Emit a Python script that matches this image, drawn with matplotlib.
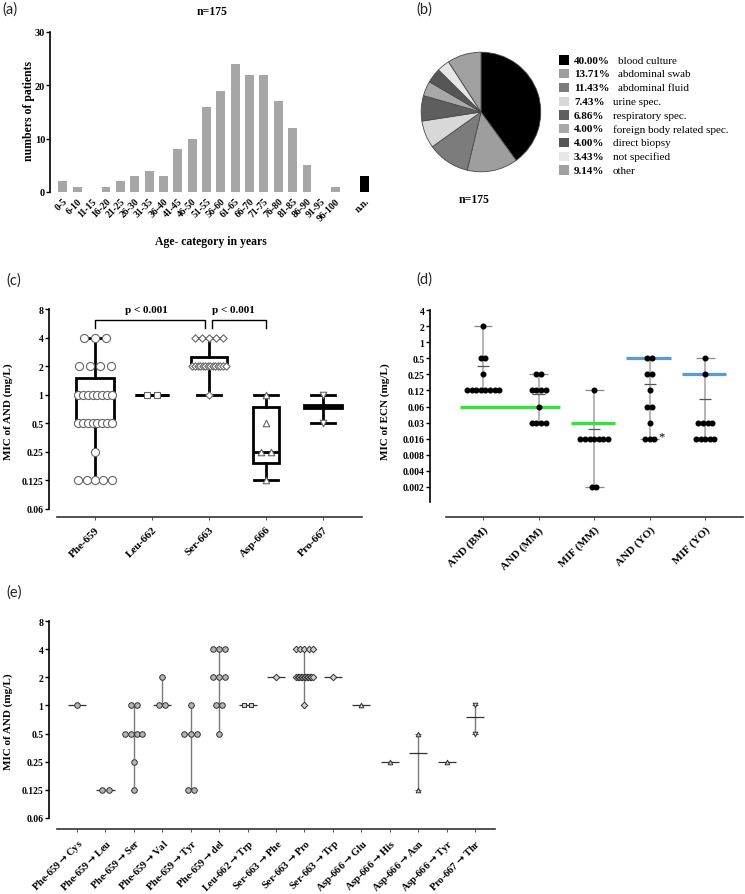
import numpy as np
import matplotlib
matplotlib.use("Agg")
import matplotlib.pyplot as plt

W, H = 745, 895
SERIF = ["Liberation Serif", "DejaVu Serif"]
plt.rcParams["font.family"] = SERIF
plt.rcParams["font.weight"] = "bold"
plt.rcParams["axes.linewidth"] = 1.2

# ---- data ----
# (a) age distribution
age_groups = ["0-5", "6-10", "11-15", "16-20", "21-25", "26-30", "31-35", "36-40",
              "41-45", "46-50", "51-55", "56-60", "61-65", "66-70", "71-75", "76-80",
              "81-85", "86-90", "91-95", "96-100", "n.n."]
patients = [2, 1, 0, 1, 2, 3, 4, 3, 8, 10, 16, 19, 24, 22, 22, 17, 12, 5, 0, 1, 3]

# (b) specimen types
spec_pct = [40.00, 13.71, 11.43, 7.43, 6.86, 4.00, 4.00, 3.43, 9.14]
spec_names = ["blood culture", "abdominal swab", "abdominal fluid", "urine spec.",
              "respiratory spec.", "foreign body related spec.", "direct biopsy",
              "not specified", "other"]
spec_colors = ["#000000", "#9e9e9e", "#7c7c7c", "#d8d8d8", "#5e5e5e",
               "#a8a8a8", "#565656", "#e6e6e6", "#a0a0a0"]

# (e) MIC of AND per mutation
mut_labels = ["Phe-659\u2192Cys", "Phe-659\u2192Leu", "Phe-659\u2192Ser", "Phe-659\u2192Val",
              "Phe-659\u2192Tyr", "Phe-659\u2192del", "Leu-662\u2192Trp", "Ser-663\u2192Phe",
              "Ser-663\u2192Pro", "Ser-663\u2192Trp", "Asp-666\u2192Glu", "Asp-666\u2192His",
              "Asp-666\u2192Asn", "Asp-666\u2192Tyr", "Pro-667\u2192Thr"]
mut_mic = [
    [1],
    [0.125, 0.125],
    [1, 1, 0.5, 0.5, 0.5, 0.5, 0.25, 0.125],
    [2, 1, 1],
    [1, 0.5, 0.5, 0.5, 0.125, 0.125],
    [4, 4, 4, 2, 2, 2, 1, 1, 0.5],
    [1, 1],
    [2],
    [4] * 5 + [2] * 12 + [1],
    [2],
    [1],
    [0.25],
    [0.5, 0.125],
    [0.25],
    [1, 0.5],
]

# (c) hot spot positions, box summary
hs_labels = ["Phe-659", "Leu-662", "Ser-663", "Asp-666", "Pro-667"]
hs_q1 = [0.5, 1, 2, 0.19, 0.73]
hs_med = [1, 1, 2, 0.25, 0.75]
hs_q3 = [1.5, 1, 2.5, 0.74, 0.77]
hs_lo = [0.125, 1, 1, 0.125, 0.5]
hs_hi = [4, 1, 4, 1, 1]
hs_markers = ["o", "s", "D", "^", "v"]

# (d) MIC of echinocandins
d_labels = ["AND (BM)", "AND (MM)", "MIF (MM)", "AND (YO)", "MIF (YO)"]
d_mic = [
    [2, 0.5, 0.5, 0.25] + [0.125] * 8,
    [0.25] * 2 + [0.125] * 4 + [0.0625] + [0.03125] * 4,
    [0.125] + [0.015625] * 7 + [0.001953125] * 2,
    [0.5] * 2 + [0.25] * 2 + [0.125] + [0.0625] * 2 + [0.03125] + [0.015625] * 3,
    [0.5, 0.25] + [0.03125] * 4 + [0.015625] * 5,
]
# ECV lines: first group, last group, value, colour
ecv = [(0, 1, 0.0625, "#2ee82e"), (2, 2, 0.03125, "#2ee82e"),
       (3, 3, 0.5, "#5b9bd5"), (4, 4, 0.25, "#5b9bd5")]
d_ticks = [4, 2, 1, 0.5, 0.25, 0.125, 0.0625, 0.03125, 0.015625, 0.0078125,
           0.00390625, 0.001953125]
d_ticklabels = ["4", "2", "1", "0.5", "0.25", "0.12", "0.06", "0.03", "0.016",
                "0.008", "0.004", "0.002"]
and_ticks = [8, 4, 2, 1, 0.5, 0.25, 0.125, 0.0625]
and_ticklabels = ["8", "4", "2", "1", "0.5", "0.25", "0.125", "0.06"]


fig = plt.figure(figsize=(W / 100, H / 100), dpi=100)


def px_ax(l, t, r, b):
    return fig.add_axes([l / W, 1 - b / H, (r - l) / W, (b - t) / H])


def spread(vals, step, maxw):
    vals = np.asarray(vals, dtype=float)
    xs = np.zeros(len(vals))
    for v in np.unique(vals):
        idx = np.where(vals == v)[0]
        n = len(idx)
        s = step if n == 1 else min(step, maxw / (n - 1))
        xs[idx] = (np.arange(n) - (n - 1) / 2) * s
    return xs


def style_log_axis(ax, ticks, labels, lo_bound, hi_bound, xlo, xhi):
    ax.set_yscale("log", base=2)
    ax.set_yticks(ticks)
    ax.set_yticklabels(labels, fontsize=7)
    ax.yaxis.set_minor_locator(plt.NullLocator())
    ax.spines["top"].set_visible(False)
    ax.spines["right"].set_visible(False)
    ax.spines["left"].set_bounds(lo_bound, hi_bound)
    ax.spines["bottom"].set_bounds(xlo, xhi)
    ax.spines["bottom"].set_color("#333333")
    ax.tick_params(axis="y", length=3, width=1, pad=1)
    ax.tick_params(axis="x", length=2, width=0.6, colors="#333333", labelcolor="black")


# ---- (a) bar chart ----
axa = px_ax(50, 33, 373, 193)
pos = np.append(np.arange(len(age_groups) - 1), len(age_groups))
cols = ["#a6a6a6"] * (len(age_groups) - 1) + ["black"]
axa.bar(pos, patients, width=0.62, color=cols)
axa.set_xlim(-0.9, 21.6)
axa.set_ylim(0, 30)
axa.set_yticks([0, 10, 20, 30])
axa.tick_params(axis="y", labelsize=7.5, length=3, width=1, pad=0.5)
axa.set_xticks(pos)
axa.set_xticklabels(age_groups, rotation=45, ha="right", rotation_mode="anchor", fontsize=7)
axa.tick_params(axis="x", length=0, pad=3)
for s in ["top", "right", "bottom"]:
    axa.spines[s].set_visible(False)

# ---- (b) pie ----
axb = px_ax(420, 52, 542, 174)
axb.pie(spec_pct, colors=spec_colors, startangle=90, counterclock=False,
        wedgeprops=dict(edgecolor="#4a4a4a", linewidth=0.6))
axb.set_xlim(-1.02, 1.02)
axb.set_ylim(-1.02, 1.02)

# ---- (c) box plot ----
axc = px_ax(49, 308, 362, 518)
stats = [dict(med=m, q1=a, q3=b, whislo=lo, whishi=hi, fliers=[])
         for m, a, b, lo, hi in zip(hs_med, hs_q1, hs_q3, hs_lo, hs_hi)]
axc.bxp(stats, positions=range(5), widths=[0.65, 0.6, 0.62, 0.47, 0.65],
        showfliers=False, patch_artist=True, capwidths=0.42,
        boxprops=dict(facecolor="white", edgecolor="black", linewidth=2),
        whiskerprops=dict(linewidth=2), capprops=dict(linewidth=2),
        medianprops=dict(color="black", linewidth=2))
parent = [lab.split("\u2192")[0] for lab in mut_labels]
for i, hs in enumerate(hs_labels):
    vals = [v for p, vv in zip(parent, mut_mic) if p == hs for v in vv]
    mk = hs_markers[i]
    step = 0.12 if mk == "D" else 0.19
    xs = i + spread(vals, step, 0.58)
    size = {"o": 34, "D": 14}.get(mk, 22)
    axc.scatter(xs, vals, marker=mk, s=size, facecolor="white",
                edgecolor="#666666", linewidth=0.8, zorder=4)
# significance brackets
for x0, x1, xt in [(0, 1.93, 0.9), (2.05, 3, 2.42)]:
    axc.plot([x0, x0, x1, x1], [5.0, 6.1, 6.1, 5.0], color="black", lw=1, clip_on=False)
    axc.text(xt, 8.0, "p < 0.001", ha="center", va="center", fontsize=8)
axc.set_xlim(-0.807, 4.684)
axc.set_ylim(2 ** (-4 - 8 / 28.57), 2 ** (3 + 2 / 28.57))
style_log_axis(axc, and_ticks, and_ticklabels, 0.0625, 8, -0.667, 4.684)
axc.set_xticks(range(5))
axc.set_xticklabels(hs_labels, rotation=45, ha="right", rotation_mode="anchor", fontsize=8)

# ---- (d) scatter with range and mean ----
axd = px_ax(430, 309, 743, 518)
for i, vals in enumerate(d_mic):
    lo, hi, mean = min(vals), max(vals), np.mean(vals)
    axd.vlines(i, lo, hi, color="#a8a8a8", lw=1.2, zorder=1)
    axd.hlines([lo, hi], i - 0.17, i + 0.17, color="#888888", lw=0.9, zorder=1)
    axd.hlines(mean, i - 0.11, i + 0.11, color="#555555", lw=0.9, zorder=1)
    axd.scatter(i + spread(vals, 0.083, 1.0), vals, s=11, color="black", zorder=3)
for g0, g1, v, c in ecv:
    axd.hlines(v, g0 - 0.42, g1 + 0.38, color=c, lw=2.3, zorder=2)
axd.annotate("*", (3, 0.015625), xytext=(6.5, 1.5), textcoords="offset points",
             fontsize=9, fontweight="normal", ha="left", va="center")
axd.set_xlim(-0.955, 4.68)
axd.set_ylim(2 ** (-9 - 30 / 16.09), 2 ** (2 + 2 / 16.09))
style_log_axis(axd, d_ticks, d_ticklabels, 2 ** -9.93, 4, -0.667, 4.68)
axd.set_xticks(range(5))
axd.set_xticklabels(d_labels, rotation=45, ha="right", rotation_mode="anchor", fontsize=8)

# ---- (e) per mutation, range and median ----
axe = px_ax(49, 620, 495, 830)
marker_of = dict(zip(hs_labels, hs_markers))
for i, vals in enumerate(mut_mic):
    lo, hi, med = min(vals), max(vals), np.median(vals)
    axe.vlines(i, lo, hi, color="#7a7a7a", lw=1, zorder=1)
    axe.hlines([lo, hi], i - 0.1, i + 0.1, color="#555555", lw=0.8, zorder=1)
    axe.hlines(med, i - 0.32, i + 0.32, color="#333333", lw=0.9, zorder=1)
    mk = marker_of[parent[i]]
    face = "#b4b4b4" if mk == "o" else "#d0d0d0"
    size = 16 if mk == "o" else 11
    axe.scatter(i + spread(vals, 0.22, 0.6), vals, marker=mk, s=size, facecolor=face,
                edgecolor="#333333", linewidth=0.7, zorder=3)
axe.set_xlim(-0.985, 14.70)
axe.set_ylim(2 ** (-4 - 11 / 28.14), 2 ** (3 + 2 / 28.14))
style_log_axis(axe, and_ticks, and_ticklabels, 0.0625, 8, -0.70, 14.70)
axe.set_xticks(range(len(mut_labels)))
# arrow drawn through mathtext so that it stays clearly visible
axe.set_xticklabels([lab.replace("\u2192", r"$\rightarrow$") for lab in mut_labels],
                    rotation=45, ha="right", rotation_mode="anchor", fontsize=7.5)

# ---- texts in pixel coordinates ----
ov = fig.add_axes([0, 0, 1, 1])
ov.set_xlim(0, W)
ov.set_ylim(H, 0)
ov.axis("off")
ov.patch.set_alpha(0)

for lab, x, y in [("(a)", 2, 10), ("(b)", 416, 10), ("(c)", 6, 281),
                  ("(d)", 416, 280), ("(e)", 6, 593)]:
    ov.text(x, y, lab, fontsize=10.5, family=["Lato", "DejaVu Sans"],
            fontweight="normal", color="#222222", va="center", ha="left")

ov.text(212, 12, "n=175", fontsize=8.5, ha="center", va="center")
ov.text(474, 200, "n=175", fontsize=8.5, ha="center", va="center")
ov.text(211, 242, "Age- category in years", fontsize=8.5, ha="center", va="center")
ov.text(29, 111, "numbers of patients", fontsize=8.5, rotation=90, ha="center", va="center")
ov.text(8, 412, "MIC of AND (mg/L)", fontsize=8, rotation=90, ha="center", va="center")
ov.text(385, 412, "MIC of ECN (mg/L)", fontsize=8, rotation=90, ha="center", va="center")
ov.text(8, 722, "MIC of AND (mg/L)", fontsize=8, rotation=90, ha="center", va="center")

# legend of the pie
for i, (p, name, c) in enumerate(zip(spec_pct, spec_names, spec_colors)):
    y = 61 + i * 13.75
    ov.scatter(564, y, marker="s", s=42, color=c, edgecolor="none")
    t = ov.text(574, y, f"{p:.2f}%", fontsize=8, ha="left", va="center")
    ov.annotate(name, xy=(1, 0.5), xycoords=t, xytext=(6, 0), textcoords="offset points",
                fontsize=8, fontweight="normal", ha="left", va="center")

fig.savefig("out.png", dpi=100)
